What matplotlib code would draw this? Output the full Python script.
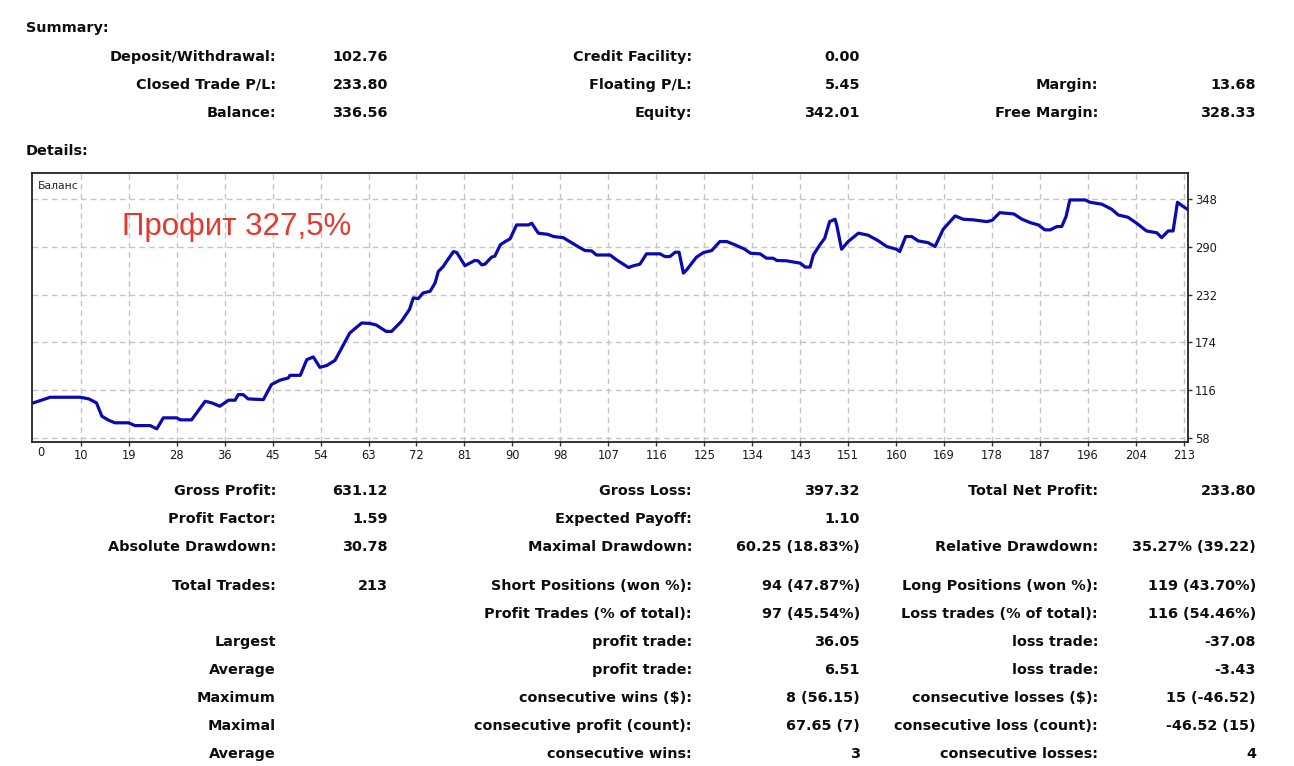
import matplotlib
matplotlib.use("Agg")
import matplotlib.pyplot as plt

W, H = 1294, 766

# balance curve (trade number, balance)
trade_x = [1.3, 4.4, 9.9, 11.5, 12.9, 13.9, 15.1, 16.3, 18.8, 20.0, 22.8, 24.0, 25.2, 27.7,
           28.3, 30.4, 32.9, 34.1, 35.6, 37.2, 38.4, 39.0, 39.9, 40.8, 43.6, 45.1, 46.6,
           48.2, 48.5, 50.4, 51.6, 52.8, 54.0, 55.3, 56.8, 59.5, 61.7, 63.2, 64.4, 66.2,
           67.2, 69.0, 70.5, 71.2, 72.1, 73.0, 74.3, 75.2, 75.8, 76.7, 77.3, 78.6, 79.2,
           80.7, 82.5, 83.1, 83.8, 84.4, 85.6, 86.2, 87.2, 88.1, 89.0, 90.2, 92.4, 93.0,
           94.2, 96.0, 97.0, 98.8, 101.3, 102.8, 104.0, 104.9, 107.4, 108.6, 110.8, 111.7,
           112.9, 114.1, 116.6, 117.5, 118.4, 119.4, 120.1, 120.9, 121.5, 123.3, 124.6,
           126.1, 127.6, 128.9, 130.4, 132.2, 133.2, 135.0, 136.2, 137.4, 138.1, 139.8,
           142.4, 143.3, 144.2, 144.8, 146.0, 146.9, 147.8, 148.8, 149.1, 150.0, 151.2,
           153.1, 154.9, 156.7, 158.3, 160.1, 160.7, 161.8, 162.9, 164.1, 165.9, 167.2,
           168.7, 170.9, 172.4, 174.3, 176.7, 177.7, 179.1, 181.7, 183.2, 184.7, 186.2,
           187.4, 188.4, 189.6, 190.5, 191.3, 192.0, 194.8, 195.7, 197.9, 199.7, 200.9,
           202.7, 204.3, 206.1, 208.0, 208.9, 210.1, 211.0, 211.8, 212.6, 213.8]
balance = [100.6, 107.4, 107.4, 105.4, 100.6, 84.4, 79.6, 76.4, 76.4, 73.0, 73.0, 69.0, 82.4, 82.4,
           80.0, 80.0, 102.5, 100.6, 96.5, 103.8, 103.8, 110.6, 110.6, 105.4, 104.5, 122.8, 128.0,
           130.8, 134.0, 134.0, 153.0, 156.3, 143.7, 146.0, 152.2, 185.3, 197.5, 197.0, 195.0, 187.3,
           187.3, 199.4, 214.0, 228.0, 227.0, 234.0, 236.0, 246.0, 260.0, 266.0, 272.0, 284.2, 283.0,
           267.0, 273.3, 273.0, 268.0, 269.0, 277.4, 278.6, 292.3, 296.3, 299.6, 316.5, 316.5, 318.5,
           306.5, 305.0, 302.4, 301.0, 291.0, 285.4, 285.0, 280.0, 280.0, 274.1, 264.8, 266.9,
           268.9, 281.4, 281.4, 278.1, 278.1, 283.4, 283.4, 258.0, 262.0, 277.4, 283.0,
           285.4, 296.3, 296.3, 292.3, 287.0, 282.2, 281.4, 276.1, 276.1, 273.3, 273.0,
           270.1, 265.3, 265.3, 280.0, 292.3, 300.4, 320.5, 323.4, 316.5, 287.0, 296.3,
           306.5, 304.0, 297.5, 290.3, 287.0, 284.2, 302.4, 302.4, 297.1, 295.0, 290.3,
           311.3, 327.4, 323.4, 322.6, 320.5, 322.0, 331.4, 329.8, 323.4, 319.3, 316.5,
           310.5, 310.5, 314.5, 314.5, 326.6, 346.8, 346.8, 344.0, 341.6, 335.5, 328.6,
           325.8, 318.5, 309.2, 307.0, 301.1, 309.2, 309.2, 344.0, 340.0, 334.7]

x_labels = ["10", "19", "28", "36", "45", "54", "63", "72", "81", "90", "98", "107", "116",
            "125", "134", "143", "151", "160", "169", "178", "187", "196", "204", "213"]
y_ticks = [58, 116, 174, 232, 290, 348]

summary_rows = [
    ["Deposit/Withdrawal:", "102.76", "Credit Facility:", "0.00", "", ""],
    ["Closed Trade P/L:", "233.80", "Floating P/L:", "5.45", "Margin:", "13.68"],
    ["Balance:", "336.56", "Equity:", "342.01", "Free Margin:", "328.33"],
]
details_rows = [
    ["Gross Profit:", "631.12", "Gross Loss:", "397.32", "Total Net Profit:", "233.80"],
    ["Profit Factor:", "1.59", "Expected Payoff:", "1.10", "", ""],
    ["Absolute Drawdown:", "30.78", "Maximal Drawdown:", "60.25 (18.83%)", "Relative Drawdown:", "35.27% (39.22)"],
    ["Total Trades:", "213", "Short Positions (won %):", "94 (47.87%)", "Long Positions (won %):", "119 (43.70%)"],
    ["", "", "Profit Trades (% of total):", "97 (45.54%)", "Loss trades (% of total):", "116 (54.46%)"],
    ["Largest", "", "profit trade:", "36.05", "loss trade:", "-37.08"],
    ["Average", "", "profit trade:", "6.51", "loss trade:", "-3.43"],
    ["Maximum", "", "consecutive wins ($):", "8 (56.15)", "consecutive losses ($):", "15 (-46.52)"],
    ["Maximal", "", "consecutive profit (count):", "67.65 (7)", "consecutive loss (count):", "-46.52 (15)"],
    ["Average", "", "consecutive wins:", "3", "consecutive losses:", "4"],
]

fig = plt.figure(figsize=(W / 100, H / 100), dpi=100)
fig.patch.set_facecolor("white")

# text blocks, pixel coordinates of baselines / right edges
col_right = [276, 388, 692, 860, 1098, 1256]
txt = dict(family="DejaVu Sans", weight="bold", fontsize=10.4, color="#0d0d0d")


def put_row(row, base):
    for c, s in enumerate(row):
        if s:
            fig.text(col_right[c] / W, 1 - base / H, s, ha="right", va="baseline", **txt)


fig.text(26 / W, 1 - 32 / H, "Summary:", ha="left", va="baseline", **txt)
for i, row in enumerate(summary_rows):
    put_row(row, 61 + 28 * i)
fig.text(26 / W, 1 - 155 / H, "Details:", ha="left", va="baseline", **txt)
bases = [495, 523, 551, 590, 618, 646, 674, 702, 730, 758]
for row, b in zip(details_rows, bases):
    put_row(row, b)

# chart
ax = fig.add_axes([32 / W, 1 - 442 / H, 1156 / W, 269 / H])
ax.plot(trade_x, balance, color="#0a0ab0", linewidth=2.3, solid_joinstyle="round")
ax.set_xlim(1.04, 213.74)
ax.set_ylim(53.1, 379.5)

step = (213 - 10) / (len(x_labels) - 1)
ax.set_xticks([10 + k * step for k in range(len(x_labels))])
ax.set_xticklabels(x_labels)
ax.set_yticks(y_ticks)
ax.yaxis.tick_right()
ax.tick_params(axis="both", direction="out", length=3, width=1, color="#333333",
               labelsize=8.3, labelcolor="#1a1a1a", pad=2)
ax.grid(True, color="#c4c4c4", linestyle=(0, (4, 3)), linewidth=1.0)
for sp in ax.spines.values():
    sp.set_color("#222222")
    sp.set_linewidth(1.3)

ax.text(0.0045, -0.016, "0", transform=ax.transAxes, ha="left", va="top",
        fontsize=8.3, color="#1a1a1a")
ax.text(0.005, 0.972, "Баланс", transform=ax.transAxes, ha="left", va="top",
        fontsize=7.8, color="#222222")
ax.text((122 - 32) / 1156, 1 - (235 - 173) / 269, "Профит 327,5%", transform=ax.transAxes,
        ha="left", va="baseline", family="Liberation Sans", fontsize=22.5, color="#e5392d")

fig.savefig("out.png", dpi=100, facecolor="white")
